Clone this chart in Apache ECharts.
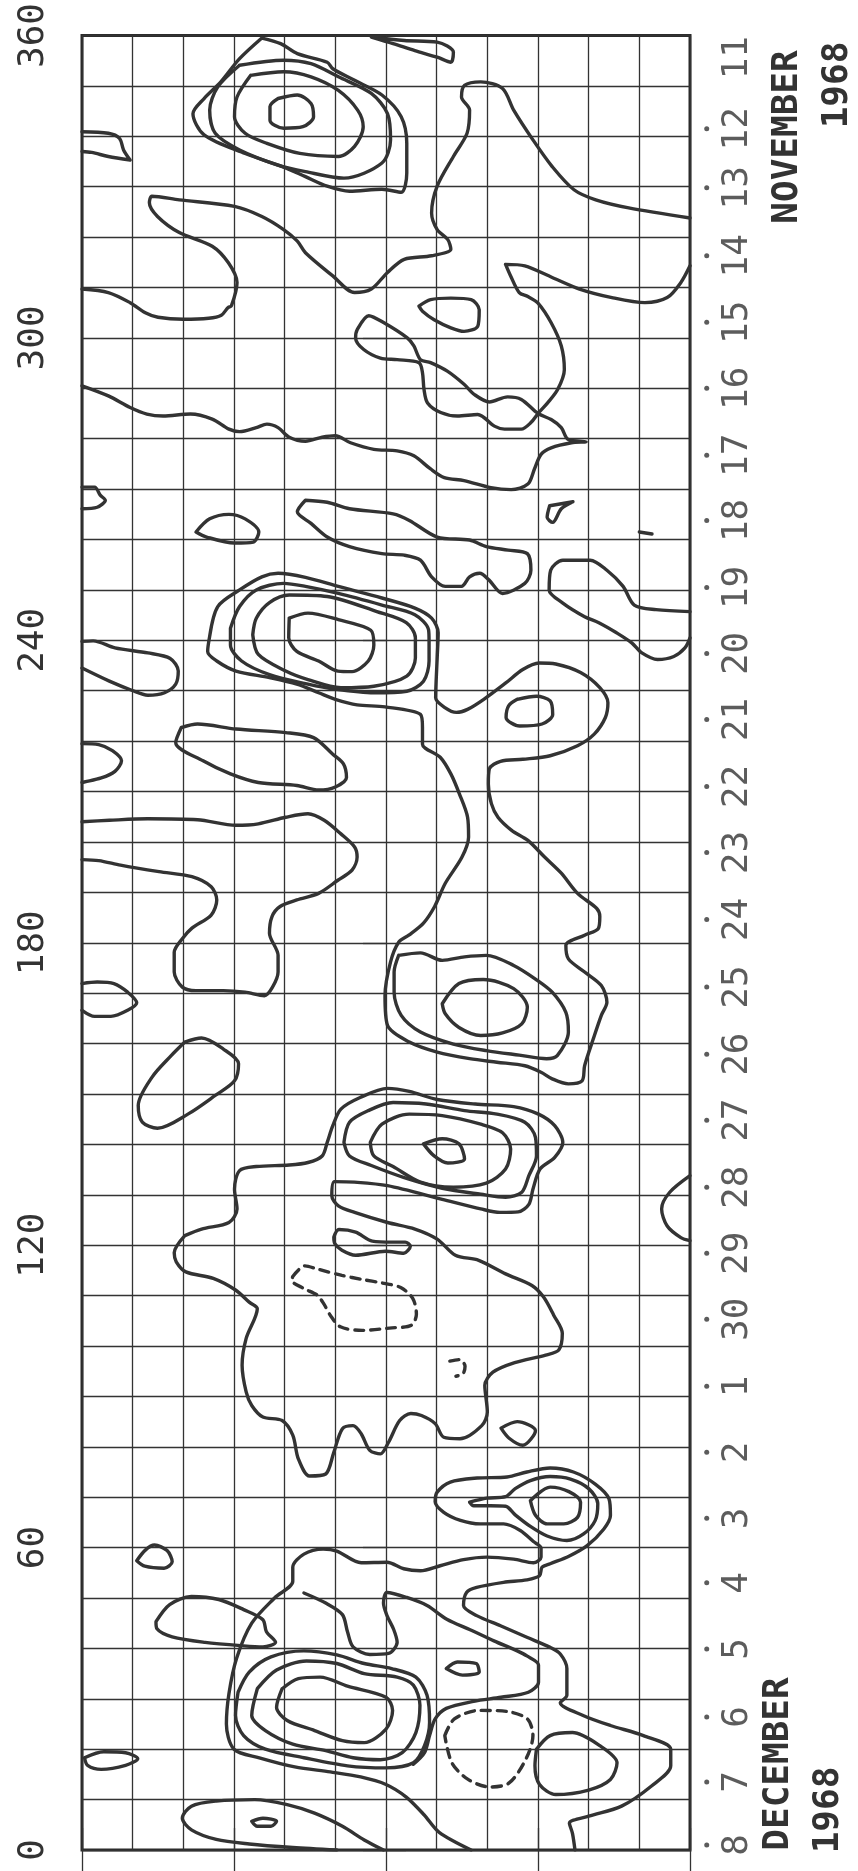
<!DOCTYPE html>
<html><head><meta charset="utf-8">
<script src="https://cdn.jsdelivr.net/npm/echarts@6.0.0/dist/echarts.min.js"></script>
<style>html,body{margin:0;padding:0;background:#fff}#c{width:858px;height:1871px}</style>
</head><body><div id="c"></div>
<script>
// ---- tick labels ----
const lonTicks = [0, 60, 120, 180, 240, 300, 360];
const dateLabels = ['11','12','13','14','15','16','17','18','19','20','21','22','23','24','25','26','27','28','29','30','1','2','3','4','5','6','7','8'];
const dateLon = [355.6,341.5,329.8,316.3,303.1,290.0,276.7,263.8,250.5,237.4,224.3,211.0,197.9,184.6,171.2,157.9,144.8,131.5,118.4,105.3,92.0,78.9,65.8,53.0,39.9,26.4,13.5,1.0];

// ---- contours: [latitude, longitude] ----
const spotA1 = [[-24.5,359.5],[-20.8,358.4],[-17.5,356.4],[-11.6,354.7],[-10.5,353.4],[-6.2,351.1],[-0.8,348.2],[3.0,343.9],[4.1,338.6],[4.1,332.7],[3.0,328.9],[-0.8,329.5],[-7.2,329.1],[-11.6,330.1],[-15.9,332.0],[-19.7,333.7],[-27.8,336.6],[-35.9,340.3],[-38.1,344.5],[-35.9,347.5],[-32.6,350.8],[-28.9,355.4],[-24.5,359.5]];
const spotA2 = [[-28.9,354.1],[-20.2,355.1],[-14.8,354.4],[-9.4,351.8],[-2.9,348.5],[0.3,344.5],[0.9,339.3],[-0.8,334.7],[-8.3,331.7],[-15.9,333.0],[-21.3,334.3],[-28.9,337.3],[-33.7,340.6],[-34.8,345.2],[-33.2,349.8],[-28.9,354.1]];
const spotA3 = [[-26.7,352.1],[-20.2,352.8],[-14.8,351.8],[-9.4,349.1],[-5.6,345.2],[-4.5,341.9],[-6.2,338.0],[-9.4,336.0],[-17.0,336.6],[-23.5,338.6],[-27.8,340.6],[-29.9,343.9],[-29.4,347.8],[-26.7,352.1]];
const spotA4 = [[-21.3,347.5],[-17.5,348.2],[-14.8,346.5],[-14.3,343.9],[-16.4,341.9],[-20.2,341.6],[-22.9,343.2],[-22.9,345.9],[-21.3,347.5]];
const blobTop = [[-2.9,359.7],[3.6,359.0],[10.1,358.7],[13.3,356.7],[12.8,354.7],[10.1,355.7],[5.7,357.0],[1.4,358.4],[-2.9,359.7]];
const blobLeft340 = [[-60,340.9],[-54.8,340.6],[-52.6,339.6],[-51.8,337.3],[-50.5,335.3],[-54.8,336.0],[-58.1,336.8],[-60,337.0]];
const lineA = [[-60,309.7],[-54.8,309.0],[-50.5,307.0],[-47.5,305.0],[-45,304.1],[-40,303.7],[-35,303.9],[-32.5,304.5],[-31.2,306],[-30.5,306.4],[-29.4,311.0],[-31.1,314.9],[-34.3,318.2],[-40.8,320.9],[-45.1,324.1],[-46.7,326.8],[-46.2,328.1],[-40.8,327.4],[-29.9,326.1],[-24.5,324.1],[-20.2,321.5],[-17.5,319.2],[-15.9,316.9],[-10.5,312.3],[-6.2,309.0],[-2.9,309.7],[0.3,313.0],[3.6,315.6],[9.0,316.3],[12.8,317.6],[12.2,319.5],[10.1,321.5],[9.0,324.8],[10.1,330.1],[13.3,336.0],[16.0,340.6],[16.5,345.2],[14.9,347.8],[15.5,350.1],[18.7,350.8],[23.0,349.5],[25.2,345.2],[29.0,339.3],[32.8,334.0],[37.1,329.4],[41.4,327.4],[47.9,325.8],[60,323.8]];
const lineB = [[-60,290.5],[-54.8,288.5],[-50.5,286.2],[-47.2,284.9],[-44.0,284.5],[-38.6,284.9],[-34.3,283.9],[-31.0,281.9],[-28.9,281.4],[-25.6,282.2],[-23.5,282.9],[-21.3,282.2],[-19.1,280.3],[-15.9,279.5],[-12.6,280.3],[-10,280.6],[-7.0,279.2],[-2.4,277.9],[2.2,277.6],[5.5,276.6],[8.8,274.0],[11.5,272.3],[15.4,271.7],[20.7,270.3],[24.7,269.9],[28.0,271.0],[29.3,274.0],[30.6,276.9],[32.6,278.2],[36.6,279.2],[39.5,279.4],[35.9,279.9],[34.6,282.2],[32.6,283.8],[30.0,285.0],[26.7,287.8],[24.0,288.3],[20.4,287.3],[17.4,288.8],[15.4,290.8],[12.1,293.4],[8.8,295.1],[6.8,295.7],[5.5,298.4],[4.2,300.0],[-0.4,303.0],[-3.4,304.4],[-5.7,301.6],[-6.0,300.0],[-4.4,297.7],[-1.1,296.0],[2.2,295.7],[6.5,295.1],[7.2,293.1],[7.5,289.8],[8.2,287.1],[10.8,285.2],[14.1,284.5],[18.1,284.8],[21.4,282.5],[23.4,281.9],[26.7,281.9],[28.6,283.2],[30.0,285.0],[31.9,287.1],[33.9,289.8],[35.2,293.7],[34.6,298.4],[32.6,303.0],[30.0,306.9],[28.0,308.2],[26.3,309.0],[24.6,312.3],[23.6,314.6],[27.4,314.3],[32.8,312.0],[38.2,309.7],[44.6,308.0],[51.1,307.0],[55.5,308.0],[58.2,311.0],[60,314.3]];
const blob307 = [[6.5,306.3],[8.8,307.6],[12.8,307.9],[16.8,307.6],[18.4,305.6],[18.1,302.3],[15.4,301.3],[12.8,302.0],[9.5,303.6],[7.2,305.3],[6.5,306.3]];
const tri266 = [[32.3,266.7],[36.9,267.5],[34.6,266.1],[32.9,263.4],[31.8,264.4],[32.3,266.7]];
const dash261 = [[50,261.5],[52.5,261.1]];
const blobLeft268 = [[-60,270.4],[-57.5,270.4],[-56.4,268.8],[-55.4,267.8],[-57.0,266.4],[-60,266.1]];
const blob262 = [[-37.5,261.5],[-34.8,264.1],[-31.0,265.0],[-27.8,264.1],[-25.1,261.5],[-26.2,259.5],[-29.9,259.3],[-35.4,260.5],[-37.5,261.5]];
const elong258 = [[-15.9,267.8],[-11.6,267.4],[-7.2,266.1],[1.4,265.1],[4.6,263.8],[10.1,260.5],[16.5,259.9],[19.8,258.6],[24.1,257.9],[27.9,257.2],[28.6,253.9],[27.4,251.3],[23.0,249.3],[20.3,252.0],[18.5,253.3],[16.5,252.6],[14.9,250.7],[11.7,250.7],[9.0,252.6],[6.8,255.9],[3.6,256.9],[-0.8,257.2],[-7.2,258.6],[-11.6,260.5],[-14.8,263.2],[-17.5,265.5],[-15.9,267.8]];
const lumpRight245 = [[60,245.7],[53.3,246.1],[49.0,247.0],[46.8,250.7],[43.6,253.9],[40.3,255.9],[34.9,255.9],[32.5,253.9],[32.2,250.0],[34.9,247.4],[39.2,244.7],[42,243.5],[45.5,241.5],[48.5,239.5],[50.5,237.5],[53.6,236.2],[56.8,236.8],[59,238.5],[60,240.5]];
const spotB2 = [[-30.7,242.4],[-28.9,246.7],[-25.6,250.0],[-20.2,251.3],[-15.9,250.7],[-9.4,249.3],[-0.8,247.0],[5.7,245.1],[8.4,242.1],[8.5,239.8],[8.5,235.9],[7.4,231.9],[4.1,229.9],[-2.4,229.6],[-10.0,230.3],[-15.4,231.3],[-23.0,233.2],[-28.5,235.9],[-30.7,239.1],[-30.7,242.4]];
const spotB3 = [[-26.3,241.1],[-25.6,244.4],[-23,247.5],[-19.1,249],[-11.6,248.7],[-1.8,245.7],[4,243.5],[5.8,240.5],[5.8,236.5],[4.1,232.9],[-2.4,230.9],[-8.9,230.6],[-15.4,232.2],[-19.8,233.9],[-25.2,237.2],[-26.3,241.1]];
const spotB4 = [[-19.1,244.4],[-15.4,245.4],[-9.4,244.1],[-3,242],[-2.4,239.1],[-3.5,235.9],[-6.7,233.8],[-9.5,233.9],[-13.3,235.9],[-17.6,237.8],[-19.2,240.5],[-19.1,244.4]];
const bigLoop1 = [[-34.8,240.8],[-33.2,246.7],[-28.9,250],[-24.5,252.6],[-21.3,253.3],[-15.9,252.5],[-9.4,250.7],[-0.8,248.4],[5.7,246.4],[9,244.4],[10.3,241.5],[10.1,236.5],[9.8,228.6],[11.7,226.6],[13.9,225.7],[16.1,226.3],[19.3,228.3],[23.7,231.6],[27,234.2],[30.2,235.5],[33.5,235.3],[38.4,233.6],[42.2,230.6],[43.8,227.6],[43.3,224.7],[41.1,221.4],[37.8,219.1],[32.4,217.1],[27,216.4],[22.6,216],[20.4,214.5],[20.2,211.5],[20.8,207.6],[22.1,204.9],[24.8,202.3],[28,200.3],[31.3,197],[34.6,193.8],[37.8,189.8],[41.6,186.8],[42.2,185.2],[41.9,182.8],[39.2,181.5],[35.5,179.5],[36,176.8],[39.2,174.2],[42.5,171.5],[43.6,168.2],[42.5,165.6],[40.9,160.9],[39.2,155.6],[38.7,152.6],[36,152],[32.8,153],[30.6,154.3],[27.4,155.6],[21.9,156.3],[16.5,157],[10.1,158.3],[4.6,160.3],[0.3,163.6],[-0.2,169.5],[0.9,176.2],[2.5,180.1],[4.5,181.5],[7.4,183.9],[9.6,187.2],[11.7,191.8],[15,197],[16.3,201],[16.1,204.9],[14.5,209.5],[12.8,213.5],[10.7,216.8],[7.2,219.4],[7.2,222.7],[6.8,225.3],[-0.2,226.8],[-5.7,227.2],[-10,228.3],[-13.3,229.6],[-17.6,231.3],[-23,232.6],[-29.6,233.9],[-33.4,235.9],[-35.2,237.8],[-34.8,240.8]];
const blob225 = [[25.9,228.3],[29.7,228.9],[32.4,228.0],[32.9,225.3],[30.8,223.4],[26.4,223.0],[23.7,224.7],[24.2,227.0],[25.9,228.3]];
const blobLeft236 = [[-60,239.8],[-57.8,239.9],[-53.5,238.5],[-47.0,237.5],[-42.6,236.4],[-41.0,233.9],[-41.5,231.3],[-43.7,229.6],[-47.0,229.1],[-50.2,230.1],[-54.6,231.9],[-60,234.5]];
const blobLeft216 = [[-60,219.5],[-56.7,219.3],[-54.0,218.1],[-52.2,216.1],[-53.5,214.0],[-56.2,212.7],[-60,211.8]];
const elong216 = [[-40.4,222.7],[-37.2,223.4],[-29.6,222.4],[-19.8,221.7],[-14.3,220.7],[-10.5,217.4],[-8.4,215.5],[-7.8,212.8],[-10.0,210.9],[-13.3,210.3],[-17.6,211.2],[-25.2,211.8],[-30.7,213.5],[-36.1,216.1],[-41.5,219.7],[-40.4,222.7]];
const lineC = [[-60,204.0],[-54.6,204.3],[-47.0,204.6],[-37.2,204.4],[-29.6,203.3],[-25.2,203.6],[-19.8,204.9],[-15.4,205.6],[-12.2,204.3],[-8.9,201.6],[-6.2,199.0],[-5.7,197.0],[-6.7,194.4],[-9.5,192.4],[-13.3,189.8],[-17.6,188.5],[-20.9,187.2],[-22.5,185.2],[-23.0,181.9],[-21.3,177.5],[-21.3,174.2],[-22.4,171.2],[-24.0,169.5],[-27.8,170.2],[-32.1,170.5],[-37.5,170.5],[-40.2,171.2],[-41.8,174.2],[-41.8,178.1],[-40.2,180.8],[-38.3,182.9],[-34.5,185.5],[-33.4,188.5],[-34.5,191.1],[-38.3,193.1],[-44.8,194.1],[-52.4,195.4],[-56.7,196.3],[-60,196.5]];
const blobLeft168 = [[-60,171.9],[-57.0,172.2],[-53.7,171.9],[-51.0,170.2],[-49.2,168.1],[-51.0,166.6],[-54.3,165.4],[-57.5,165.4],[-60,166.6]];
const tear152 = [[-39.7,160.3],[-36.4,161.1],[-32.1,158.9],[-29.1,156.0],[-29.9,152.6],[-33.7,149.7],[-39.1,146.0],[-45.1,143.2],[-48.1,144.4],[-48.9,147.7],[-46.2,153.3],[-42.4,157.6],[-39.7,160.3]];
const spotC1 = [[2.5,177.5],[6.8,178.0],[11.1,176.5],[15.5,177.2],[19.8,177.5],[25.2,175.5],[29.5,172.8],[32.8,170.2],[35.5,166.2],[36.0,162.3],[33.8,157.6],[31.7,157.0],[26.3,157.7],[19.8,158.6],[13.3,159.9],[6.8,162.3],[3.0,165.6],[1.6,170.2],[1.6,174.2],[2.5,177.5]];
const spotC2 = [[11.1,167.9],[14.4,171.9],[19.2,172.7],[25.2,170.9],[27.9,167.2],[26.8,163.9],[23.0,162.1],[18.7,161.6],[14.4,163.2],[11.7,165.9],[11.1,167.9]];
const bigLoop2 = [[-39.7,121.9],[-36.4,123.2],[-31.0,124.5],[-29.4,127.2],[-29.9,131.1],[-28.9,134.8],[-25.6,135.6],[-19.1,135.9],[-15.4,136.4],[-12.6,137.7],[-11.6,140.4],[-10.5,143.7],[-8.9,147.0],[-5.1,149.3],[0.3,151.1],[4.6,150.5],[10.1,148.9],[17.6,148.0],[25.2,147.5],[30.1,146.0],[33.3,143.7],[34.9,140.4],[33.3,137.4],[30.4,135.1],[29.0,131.1],[28.2,128.1],[26.1,126.6],[22.5,126.5],[18.7,127.2],[11.1,129.1],[0.3,131.8],[-6.2,132.5],[-10.2,132.6],[-10.7,129.8],[-9.4,127.8],[-6.2,126.5],[0.3,124.5],[5.7,123.2],[10.1,121.2],[13.7,118.0],[18.3,117.0],[23.6,114.3],[28.8,112.0],[31.1,109.7],[33.1,106.1],[34.8,102.5],[34.1,99.2],[31.5,98.2],[25.4,96.7],[21.1,94.8],[19.5,92.2],[20.0,86.9],[18.9,84.2],[14.6,81.6],[11.4,81.9],[9.7,84.6],[7.0,86.2],[4.9,86.6],[2.7,85.2],[0.5,80.9],[-1.1,78.6],[-3.2,79.3],[-4.9,82.6],[-6.5,84.2],[-8.6,83.6],[-10.3,78.9],[-11.9,74.6],[-15.1,74.2],[-17.3,77.6],[-18.4,82.3],[-20.5,85.2],[-24.3,85.9],[-26.5,88.2],[-27.6,90.9],[-28.4,96.2],[-27.6,101.5],[-25.4,107.4],[-27.0,108.7],[-29.7,111.1],[-34.1,113.4],[-39.5,114.7],[-41.4,116.7],[-41.8,118.5],[-39.7,121.9]];
const spotD2 = [[-8.3,140.4],[-7.2,144.4],[-3.5,146.7],[1.4,148.3],[7.9,148.0],[15.5,146.7],[21.9,146.0],[27.4,144.4],[29.5,141.4],[29.7,137.7],[28.2,133.8],[26.8,130.5],[23.6,129.5],[18.7,130.1],[11.1,131.3],[3.6,133.4],[-2.9,135.8],[-7.2,137.7],[-8.3,140.4]];
const spotD3 = [[-3.1,140.4],[-0.8,144.0],[4.6,146.0],[11.1,145.7],[18.7,144.0],[23.0,142.3],[24.6,139.1],[23.6,135.1],[19.8,132.3],[13.3,131.5],[6.8,132.5],[1.4,135.6],[-2.4,137.7],[-3.1,140.4]];
const spotD4 = [[7.4,140.1],[11.1,141.1],[14.4,140.1],[15.5,137.1],[12.2,136.3],[9.5,137.7],[7.4,140.1]];
const halfRight127 = [[60,133.8],[56.0,130.5],[54.4,127.2],[55.5,123.8],[58.2,121.5],[60,120.9]];
const blob120 = [[-10.3,121.6],[-9.3,123.1],[-6.0,122.6],[-2.7,120.8],[1.2,120.6],[3.8,120.6],[4.8,119.8],[3.5,118.4],[-0.1,118.8],[-6.0,118.0],[-8.7,119.0],[-10.1,120.3],[-10.3,121.6]];
const dash109 = [[-18.4,113.8],[-16,115.9],[-13.3,115.2],[-8.7,114],[-4.7,113.2],[-0.8,112.5],[2.9,111.6],[5.3,109.4],[6,106.3],[5,104.1],[1.2,103.6],[-4.7,103.1],[-9,103.8],[-11,106.1],[-12.3,108.4],[-13.6,110.1],[-16.2,111.4],[-18.6,113],[-18.4,113.8]];
const dash95 = [[12.6,97],[14.5,97.3],[15.6,96],[15.2,94.5],[13.8,94]];
const blob83 = [[22.7,83.7],[25.9,85.0],[29.5,83.2],[27.0,80.3],[24.3,81.7],[22.7,83.7]];
const spotE1 = [[28.5,69.3],[32.4,72.0],[36.1,71.1],[38.4,69.0],[37.8,66.0],[35.1,64.7],[31.8,64.7],[29.5,66.4],[28.5,69.3]];
const spotE2 = [[16.5,69.0],[19.9,69.8],[23.6,70.1],[25.5,71.7],[28.5,73.3],[32.4,74.1],[36.4,73.6],[40.0,71.7],[41.8,68.7],[41.3,65.4],[39.0,62.7],[35.7,61.4],[31.8,62.3],[28.5,64.2],[25.5,66.5],[23.6,68.2],[20.6,68.3],[17.3,68.3],[16.5,69.0]];
const bigLine3 = [[37.3,0],[36.8,3.3],[36.2,5.3],[40.0,6.7],[46.5,8.7],[52.4,12.7],[56.2,16.7],[56.2,20.0],[50.8,22.7],[44.3,24.7],[38.9,26.7],[34.4,29.2],[35.7,30.7],[35.7,36.0],[34.4,38.9],[32.4,40.2],[27.8,42.2],[22.6,44.5],[17.9,46.5],[15.3,48.5],[15.9,51.1],[17.9,52.1],[23.2,53.1],[27.8,53.6],[30.3,54.4],[30.8,56.1],[32.4,56.8],[36.1,58.3],[39.7,60.4],[43,63.7],[44.3,66.4],[44,69.7],[41.3,72.6],[37,75],[32.4,75.8],[27.8,75],[23.9,74],[18,73.8],[12.7,73],[10.1,71],[9.7,69.1],[11.4,67],[14.7,65.4],[18.6,64.7],[23.2,64.7],[26.5,63.4],[29.1,61.2],[30.6,59.9],[30.6,58.1],[29.1,57],[25.2,57.7],[19.9,58.1],[15.3,57.6],[10.7,56.4],[6.8,55.4],[3.5,55.8],[0.2,57.1],[-4.9,57.0],[-9.7,59.3],[-12.4,59.7],[-16.2,58.7],[-18.4,56.1],[-18.4,53.3],[-22,50],[-26.5,45],[-29.5,38],[-31,31],[-31.5,25],[-30,20],[-25,18.3],[-18,16.5],[-11,15.5],[-5,14.5],[0,13],[4,10.5],[7.5,7],[10.5,3.5],[16.8,0]];
const hookLine = [[-16.2,51],[-11.9,49],[-8.6,46.7],[-7.6,43.3],[-6.5,40.3],[-3.2,38.8],[0.5,39],[2.2,41.2],[1.5,43.8],[0.2,46.5],[-0.5,49],[0.2,51.1],[4.1,50.1],[8.1,48.5],[12,45.8],[16.6,43.7],[21.3,41.5],[25.9,39.5],[27.8,38.5],[30.1,36.7],[30.1,33.3],[28.1,31.3],[22.7,30.3],[17.3,29.5],[11.9,28.1],[9.7,26],[8.6,22.7],[7.6,19.3],[5.4,17]];
const spotF1 = [[-20.5,32.0],[-17.3,34.0],[-13.0,34.3],[-7.6,32.5],[0,30.3],[1.3,27.7],[0,24.0],[-4.3,21.3],[-8.6,21.7],[-14.1,23.7],[-19.5,25.7],[-21.6,28.3],[-20.5,32.0]];
const spotF2 = [[-25.4,32.0],[-21.6,35.7],[-15.7,37.5],[-9.7,37.0],[-4.3,35.0],[2.2,34.3],[5.4,32.7],[6.7,28.7],[5.9,23.3],[3.2,19.3],[-1.1,17.9],[-6.5,18.3],[-11.9,19.7],[-18.4,21.0],[-23.8,23.7],[-26.5,26.7],[-25.4,32.0]];
const spotF3 = [[-29.2,31.3],[-27.0,35.3],[-22.7,38.3],[-16.2,39.5],[-9.7,38.7],[-4.3,37.0],[1.1,36.0],[5.9,34.3],[8.1,30.7],[8.6,25.3],[7.6,20.7],[5.4,17.3],[0,16.3],[-7.6,16.7],[-16.2,18.3],[-23.8,20.0],[-28.1,22.7],[-29.7,26.7],[-29.2,31.3]];
const blob58 = [[-49.2,57.4],[-47.5,59.5],[-45.7,60.5],[-43.2,59.4],[-42.2,57.2],[-43.8,55.9],[-47.6,56.3],[-49.2,57.4]];
const blob45 = [[-45.4,45.3],[-42.7,48.7],[-38.4,50.3],[-33.0,49.7],[-28.1,47.7],[-24.3,45.7],[-23.6,43.3],[-21.8,41.2],[-24.3,40.3],[-28.1,40.5],[-35.7,41.2],[-42.2,42.3],[-45.2,43.9],[-45.4,45.3]];
const blob36 = [[11.9,36.0],[14.1,37.3],[17.8,37.0],[18.4,35.3],[15.1,34.7],[11.9,36.0]];
const ellLeft18 = [[-59.5,18.3],[-55.7,19.5],[-51.4,19.3],[-49.0,18.1],[-51.4,16.8],[-56.2,16.0],[-58.9,16.8],[-59.5,18.3]];
const bottomLeft6 = [[-0.5,0],[-4.3,2.0],[-8.6,4.7],[-14.1,7.3],[-19.5,9.0],[-25.9,10.0],[-33.5,9.7],[-38.4,8.7],[-40.2,6.3],[-38.4,4.0],[-33.5,2.1],[-27.0,1.2],[-18.4,0.5],[-9.7,0]];
const tiny5 = [[-26.5,5.7],[-24.3,6.3],[-21.6,5.7],[-22.7,4.7],[-25.4,4.7],[-26.5,5.7]];
const dash20 = [[11.6,22.7],[13.5,26.0],[18.4,27.7],[23.8,27.5],[27.9,26.0],[29.0,22.7],[27.6,18.0],[24.3,13.3],[20.5,12.5],[16.2,14.0],[13.0,17.3],[11.6,22.7]];
const loop17 = [[29.7,20.0],[32.4,22.7],[36.8,23.3],[42.2,20.7],[45.6,17.3],[44.3,14.0],[40.0,11.9],[33.5,11.0],[30.3,13.0],[29.4,16.7],[29.7,20.0]];

const solidContours = [spotA1,spotA2,spotA3,spotA4,blobTop,blobLeft340,lineA,lineB,blob307,tri266,dash261,blobLeft268,blob262,elong258,lumpRight245,spotB2,spotB3,spotB4,bigLoop1,blob225,blobLeft236,blobLeft216,elong216,lineC,blobLeft168,tear152,spotC1,spotC2,bigLoop2,spotD2,spotD3,spotD4,halfRight127,blob120,blob83,spotE1,spotE2,bigLine3,hookLine,spotF1,spotF2,spotF3,blob58,blob45,blob36,ellLeft18,bottomLeft6,tiny5,loop17];
const dashedContours = [dash109,dash95,dash20];

const ink = '#333333';
const series = [];
solidContours.forEach(d => series.push({type:'line', data:d, showSymbol:false, smooth:0.3, silent:true, z:3,
  lineStyle:{color:ink, width:3.4, cap:'round', join:'round'}}));
dashedContours.forEach(d => series.push({type:'line', data:d, showSymbol:false, smooth:0.3, silent:true, z:3,
  lineStyle:{color:ink, width:3.4, type:[9,7], cap:'round'}}));
// date dots and labels on the right
series.push({type:'scatter', data:dateLon.slice(1).map(v=>[63.3,v]), symbol:'circle', symbolSize:5, clip:false, silent:true,
  itemStyle:{color:'#333'}, z:4});
series.push({type:'scatter', data:dateLon.map((v,i)=>({value:[69.4,v], name:dateLabels[i]})), symbolSize:1, clip:false, silent:true,
  itemStyle:{color:'rgba(0,0,0,0)'}, z:4,
  label:{show:true, position:'inside', formatter:'{b}', rotate:90, align:'center', verticalAlign:'middle',
    fontFamily:'DejaVu Sans Mono', fontSize:36, color:'#333'}});

const gridLine = {color:'#333', width:1.3};
const option = {
  backgroundColor:'#fff', animation:false,
  grid:{left:82, right:168, top:35, bottom:21, show:true, borderColor:'#2b2b2b', borderWidth:3, backgroundColor:'rgba(0,0,0,0)'},
  xAxis:[
    {type:'value', min:-60, max:60, interval:30, position:'bottom', axisLine:{show:false},
     axisTick:{show:true, length:22, lineStyle:gridLine}, axisLabel:{show:false},
     splitLine:{show:true, lineStyle:gridLine}, minorTick:{show:false, splitNumber:3}, minorSplitLine:{show:true, lineStyle:gridLine}},
    {type:'value', min:-60, max:60, interval:30, position:'top', axisLine:{show:false},
     axisTick:{show:true, length:22, lineStyle:gridLine}, axisLabel:{show:false}, splitLine:{show:false}}
  ],
  yAxis:[
    {type:'value', min:lonTicks[0], max:lonTicks[lonTicks.length-1], interval:60, position:'left', axisLine:{show:false},
     axisTick:{show:true, length:23, lineStyle:gridLine},
     axisLabel:{rotate:90, margin:30, fontFamily:'DejaVu Sans Mono', fontSize:36, color:'#333'},
     splitLine:{show:true, lineStyle:gridLine}, minorTick:{show:false, splitNumber:6}, minorSplitLine:{show:true, lineStyle:gridLine}},
    {type:'value', min:0, max:360, interval:360, position:'right', axisLine:{show:false},
     axisTick:{show:true, length:20, lineStyle:gridLine}, axisLabel:{show:false}, splitLine:{show:false}}
  ],
  graphic:[
    {type:'text', x:788, y:137, rotation:Math.PI/2, style:{text:'NOVEMBER', x:0, y:0, textAlign:'center', textVerticalAlign:'middle', align:'center', verticalAlign:'middle', font:'bold 36px "DejaVu Sans Mono"', fill:'#333'}},
    {type:'text', x:838, y:85, rotation:Math.PI/2, style:{text:'1968', x:0, y:0, textAlign:'center', textVerticalAlign:'middle', align:'center', verticalAlign:'middle', font:'bold 36px "DejaVu Sans Mono"', fill:'#333'}},
    {type:'text', x:779, y:1764, rotation:Math.PI/2, style:{text:'DECEMBER', x:0, y:0, textAlign:'center', textVerticalAlign:'middle', align:'center', verticalAlign:'middle', font:'bold 36px "DejaVu Sans Mono"', fill:'#333'}},
    {type:'text', x:829, y:1810, rotation:Math.PI/2, style:{text:'1968', x:0, y:0, textAlign:'center', textVerticalAlign:'middle', align:'center', verticalAlign:'middle', font:'bold 36px "DejaVu Sans Mono"', fill:'#333'}}
  ],
  series: series
};
const chart = echarts.init(document.getElementById('c'), null, {renderer:'canvas', width:858, height:1871});
chart.setOption(option);
</script></body></html>
